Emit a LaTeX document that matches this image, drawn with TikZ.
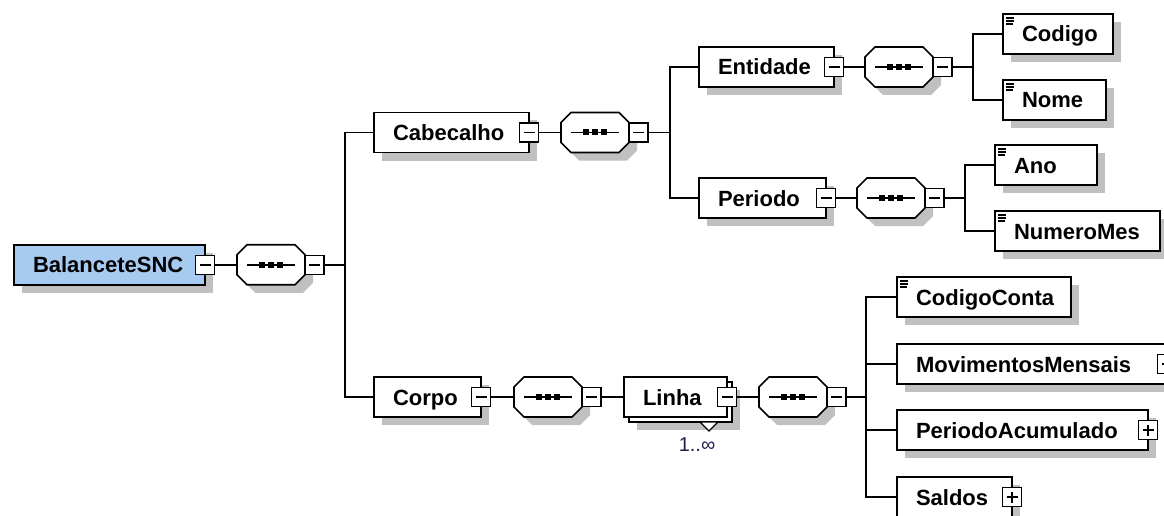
\documentclass[tikz,border=0pt]{standalone}
\usepackage{fontspec}
\setmainfont{Liberation Sans}
\usetikzlibrary{calc,shadows}
\definecolor{shadowc}{HTML}{C0C0C0}
\definecolor{rootfill}{HTML}{A6CAF0}
\definecolor{multc}{HTML}{202050}
\tikzset{
  elembox/.style={draw, line width=1.7pt, fill=white, minimum height=40pt, inner sep=0pt, outer sep=0pt,
    general shadow={fill=shadowc, shadow xshift=8pt, shadow yshift=-8pt}},
  plainbox/.style={draw, line width=1.7pt, fill=white, minimum height=40pt, inner sep=0pt, outer sep=0pt},
  lbl/.style={font=\fontsize{22}{26}\selectfont\bfseries, inner sep=0pt, outer sep=0pt, anchor=base west},
  seqbox/.style={minimum width=68pt, minimum height=40pt, inner sep=0pt, outer sep=0pt},
  minusbox/.style={draw, line width=1.5pt, fill=white, minimum size=19pt, inner sep=0pt, outer sep=0pt,
    path picture={\draw[line width=1.5pt] ([xshift=4pt]path picture bounding box.west) -- ([xshift=-4pt]path picture bounding box.east);}},
  plusbox/.style={draw, line width=1.5pt, fill=white, minimum size=19pt, inner sep=0pt, outer sep=0pt,
    path picture={\draw[line width=1.5pt] ([xshift=4pt]path picture bounding box.west) -- ([xshift=-4pt]path picture bounding box.east)
      ([yshift=-4pt]path picture bounding box.north) -- ([yshift=4pt]path picture bounding box.south);}},
  conn/.style={line width=1.7pt},
  mult/.style={font=\fontsize{20}{24}\selectfont, text=multc, inner sep=0pt},
}
\newcommand\seqdraw[1]{%
  \begin{scope}[shift={(#1.center)}]
    \fill[shadowc] (-16,-12) -- (32,-12) -- (42,-2) -- (42,18) -- (32,28) -- (-16,28) -- (-26,18) -- (-26,-2) -- cycle;
    \draw[line width=1.7pt, fill=white] (-24,-20) -- (24,-20) -- (34,-10) -- (34,10) -- (24,20) -- (-24,20) -- (-34,10) -- (-34,-10) -- cycle;
    \draw[line width=1.5pt] (-24,0) -- (24,0);
    \fill (-12,-3) rectangle (-6,3);
    \fill (-3,-3) rectangle (3,3);
    \fill (6,-3) rectangle (12,3);
  \end{scope}}
\newcommand\texticon[1]{%
  \draw[line width=1.1pt] ($(#1.north west)+(3,4)$) -- ++(8,0)
    ($(#1.north west)+(3,7)$) -- ++(8,0)
    ($(#1.north west)+(3,10)$) -- ++(7,0);}
\begin{document}
\begin{tikzpicture}[x=1pt,y=-1pt]
\useasboundingbox (0,0) rectangle (1164,516);
\clip (0,0) rectangle (1164,516);
\fill[white] (0,0) rectangle (1164,516);

% ---------- root ----------
\node[elembox, fill=rootfill, minimum width=191pt] (bal) at (109.5,264.75) {};
\node[lbl] (bal-t) at (33,272.75) {BalanceteSNC};
\node[minusbox] (bal-m) at (205,264.75) {};
\node[seqbox] (s0) at (271,264.75) {};
\seqdraw{s0}
\node[minusbox, anchor=west] (s0-m) at (s0.east) {};
\coordinate (j0) at (345,264.75);

% ---------- Cabecalho ----------
\node[elembox, minimum width=155pt] (cab) at (451.5,132.5) {};
\node[lbl] (cab-t) at (393,140.5) {Cabecalho};
\node[minusbox] (cab-m) at (529,132.5) {};
\node[seqbox] (s1) at (595,132.5) {};
\seqdraw{s1}
\node[minusbox, anchor=west] (s1-m) at (s1.east) {};
\coordinate (j1) at (670,132.5);

% Entidade
\node[elembox, minimum width=135pt] (ent) at (766.5,67) {};
\node[lbl] (ent-t) at (718,75) {Entidade};
\node[minusbox] (ent-m) at (834,67) {};
\node[seqbox] (s2) at (899,67) {};
\seqdraw{s2}
\node[minusbox, anchor=west] (s2-m) at (s2.east) {};
\coordinate (j2) at (973,67);

\node[elembox, minimum width=110pt] (cod) at (1058,34) {};
\texticon{cod}
\node[lbl] (cod-t) at (1022,42) {Codigo};
\node[elembox, minimum width=103pt] (nome) at (1054.5,100) {};
\texticon{nome}
\node[lbl] (nome-t) at (1022,108) {Nome};

% Periodo
\node[elembox, minimum width=127pt] (per) at (762.5,198) {};
\node[lbl] (per-t) at (718,206) {Periodo};
\node[minusbox] (per-m) at (826,198) {};
\node[seqbox] (s3) at (891,198) {};
\seqdraw{s3}
\node[minusbox, anchor=west] (s3-m) at (s3.east) {};
\coordinate (j3) at (965,198);

\node[elembox, minimum width=102pt] (ano) at (1046,165) {};
\texticon{ano}
\node[lbl] (ano-t) at (1014,173) {Ano};
\node[elembox, minimum width=165pt] (nmes) at (1077.5,231) {};
\texticon{nmes}
\node[lbl] (nmes-t) at (1014,239) {NumeroMes};

% ---------- Corpo ----------
\node[elembox, minimum width=107pt] (corpo) at (427.5,397) {};
\node[lbl] (corpo-t) at (393,405) {Corpo};
\node[minusbox] (corpo-m) at (481,397) {};
\node[seqbox] (s4) at (548,397) {};
\seqdraw{s4}
\node[minusbox, anchor=west] (s4-m) at (s4.east) {};

% Linha (repeated)
\node[elembox, minimum width=103pt] (linha-b) at (680.5,402) {};
\node[plainbox, minimum width=103pt] (linha) at (675.5,397) {};
\draw[line width=1.2pt, fill=white] (700,422) -- (718,422) -- (709,431) -- cycle;
\node[lbl] (linha-t) at (643,405) {Linha};
\node[minusbox] (linha-m) at (727,397) {};
\node[mult] (mult) at (697,445) {1..∞};
\node[seqbox] (s5) at (793,397) {};
\seqdraw{s5}
\node[minusbox, anchor=west] (s5-m) at (s5.east) {};
\coordinate (j5) at (866,397);

\node[elembox, minimum width=174pt] (cc) at (984,297) {};
\texticon{cc}
\node[lbl] (cc-t) at (916,305) {CodigoConta};
\node[elembox, minimum width=270pt] (mov) at (1032,364) {};
\node[lbl] (mov-t) at (916,372) {MovimentosMensais};
\node[plusbox] (mov-p) at (1167,364) {};
\node[elembox, minimum width=251pt] (pac) at (1022.5,430) {};
\node[lbl] (pac-t) at (916,438) {PeriodoAcumulado};
\node[plusbox] (pac-p) at (1148,430) {};
\node[elembox, minimum width=115pt] (sal) at (954.5,497) {};
\node[lbl] (sal-t) at (916,505) {Saldos};
\node[plusbox] (sal-p) at (1012,497) {};

% ---------- connectors ----------
\draw[conn] (bal-m.east) -- (s0.west);
\draw[conn] (s0-m.east) -- (j0);
\draw[conn] (cab.west) -| (j0) |- (corpo.west);

\draw[conn] (cab-m.east) -- (s1.west);
\draw[conn] (s1-m.east) -- (j1);
\draw[conn] (ent.west) -| (j1) |- (per.west);

\draw[conn] (ent-m.east) -- (s2.west);
\draw[conn] (s2-m.east) -- (j2);
\draw[conn] (cod.west) -| (j2) |- (nome.west);

\draw[conn] (per-m.east) -- (s3.west);
\draw[conn] (s3-m.east) -- (j3);
\draw[conn] (ano.west) -| (j3) |- (nmes.west);

\draw[conn] (corpo-m.east) -- (s4.west);
\draw[conn] (s4-m.east) -- (linha.west);
\draw[conn] (linha-m.east) -- (s5.west);
\draw[conn] (s5-m.east) -- (j5);
\draw[conn] (cc.west) -| (j5) |- (sal.west);
\draw[conn] (j5 |- mov.west) -- (mov.west);
\draw[conn] (j5 |- pac.west) -- (pac.west);
\end{tikzpicture}
\end{document}
